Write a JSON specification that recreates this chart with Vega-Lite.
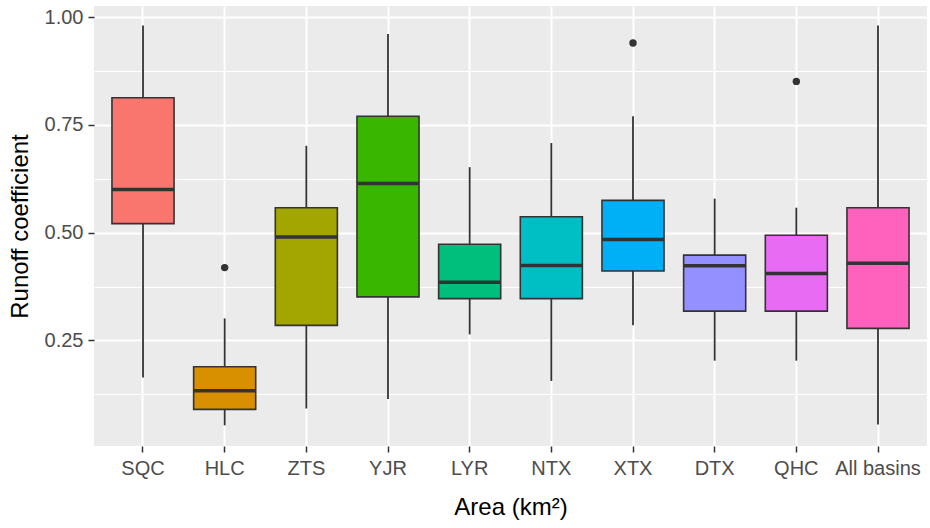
{
  "$schema": "https://vega.github.io/schema/vega-lite/v6.json",
  "width": 833,
  "height": 440,
  "autosize": {"type": "none"},
  "padding": {"left": 94, "top": 6, "right": 3, "bottom": 82},
  "background": "white",
  "config": {
    "view": {"fill": "#EBEBEB", "stroke": null},
    "font": "Liberation Sans"
  },
  "datasets": {
    "boxes": [
      {"area": "SQC", "lower": 0.164, "q1": 0.521, "median": 0.600, "q3": 0.813, "upper": 0.981},
      {"area": "HLC", "lower": 0.053, "q1": 0.090, "median": 0.133, "q3": 0.189, "upper": 0.301},
      {"area": "ZTS", "lower": 0.092, "q1": 0.285, "median": 0.490, "q3": 0.558, "upper": 0.702},
      {"area": "YJR", "lower": 0.114, "q1": 0.351, "median": 0.614, "q3": 0.770, "upper": 0.961},
      {"area": "LYR", "lower": 0.264, "q1": 0.347, "median": 0.385, "q3": 0.473, "upper": 0.652},
      {"area": "NTX", "lower": 0.156, "q1": 0.347, "median": 0.424, "q3": 0.537, "upper": 0.708},
      {"area": "XTX", "lower": 0.285, "q1": 0.411, "median": 0.484, "q3": 0.575, "upper": 0.770},
      {"area": "DTX", "lower": 0.203, "q1": 0.318, "median": 0.423, "q3": 0.448, "upper": 0.579},
      {"area": "QHC", "lower": 0.203, "q1": 0.318, "median": 0.405, "q3": 0.494, "upper": 0.558},
      {"area": "All basins", "lower": 0.055, "q1": 0.278, "median": 0.429, "q3": 0.558, "upper": 0.981}
    ],
    "outliers": [
      {"area": "HLC", "value": 0.419},
      {"area": "XTX", "value": 0.940},
      {"area": "QHC", "value": 0.851}
    ]
  },
  "encoding": {
    "x": {
      "field": "area",
      "type": "nominal",
      "sort": ["SQC", "HLC", "ZTS", "YJR", "LYR", "NTX", "XTX", "DTX", "QHC", "All basins"],
      "scale": {"type": "band", "paddingInner": 0.24, "paddingOuter": 0.22},
      "axis": {
        "title": "Area (km²)",
        "titleFontSize": 24,
        "titleFontWeight": "normal",
        "titleColor": "#000000",
        "titlePadding": 17,
        "labelFontSize": 20,
        "labelColor": "#4D4D4D",
        "labelAngle": 0,
        "labelPadding": 6,
        "tickColor": "#333333",
        "tickSize": 6,
        "tickWidth": 1.5,
        "domain": false,
        "grid": true,
        "gridColor": "#FFFFFF",
        "gridWidth": 2
      }
    }
  },
  "layer": [
    {
      "data": {"name": "boxes"},
      "mark": {"type": "rule", "color": "#333333", "strokeWidth": 1.8},
      "encoding": {
        "y": {
          "field": "lower",
          "type": "quantitative",
          "scale": {"domain": [0.005, 1.026], "nice": false, "zero": false},
          "axis": {
            "title": "Runoff coefficient",
            "titleFontSize": 24,
            "titleFontWeight": "normal",
            "titleColor": "#000000",
            "titlePadding": 12,
            "values": [0.125, 0.25, 0.375, 0.5, 0.625, 0.75, 0.875, 1.0],
            "labelExpr": "(datum.value * 8) % 2 == 1 ? '' : format(datum.value, '.2f')",
            "labelFontSize": 20,
            "labelColor": "#4D4D4D",
            "labelPadding": 5,
            "tickColor": "#333333",
            "tickSize": 6,
            "tickWidth": 1.5,
            "tickOpacity": {"condition": {"test": "(datum.value * 8) % 2 == 1", "value": 0}, "value": 1},
            "domain": false,
            "grid": true,
            "gridColor": "#FFFFFF",
            "gridWidth": {"condition": {"test": "(datum.value * 8) % 2 == 1", "value": 1}, "value": 2}
          }
        },
        "y2": {"field": "upper"}
      }
    },
    {
      "data": {"name": "boxes"},
      "mark": {"type": "bar", "stroke": "#333333", "strokeWidth": 1.6, "fillOpacity": 1},
      "encoding": {
        "y": {"field": "q1", "type": "quantitative"},
        "y2": {"field": "q3"},
        "fill": {
          "field": "area",
          "type": "nominal",
          "sort": ["SQC", "HLC", "ZTS", "YJR", "LYR", "NTX", "XTX", "DTX", "QHC", "All basins"],
          "scale": {"range": ["#F8766D", "#D89000", "#A3A500", "#39B600", "#00BF7D", "#00BFC4", "#00B0F6", "#9590FF", "#E76BF3", "#FF62BC"]},
          "legend": null
        }
      }
    },
    {
      "data": {"name": "boxes"},
      "mark": {"type": "tick", "color": "#333333", "thickness": 3.5, "size": 62, "opacity": 1},
      "encoding": {
        "y": {"field": "median", "type": "quantitative"}
      }
    },
    {
      "data": {"name": "outliers"},
      "mark": {"type": "point", "filled": true, "color": "#333333", "size": 55, "opacity": 1},
      "encoding": {
        "y": {"field": "value", "type": "quantitative"}
      }
    }
  ]
}
